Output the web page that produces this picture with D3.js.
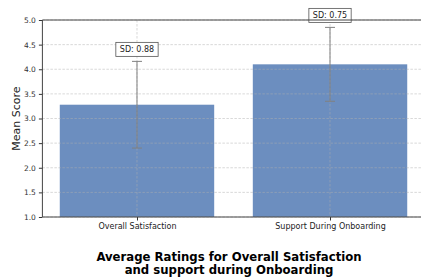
<!DOCTYPE html>
<html><head><meta charset="utf-8">
<script src="https://cdn.jsdelivr.net/npm/d3@7"></script>
<style>body{margin:0;background:#fff}svg{display:block}text{font-family:"DejaVu Sans",sans-serif}</style>
</head><body>
<svg id="c" width="421" height="279"></svg>
<script>
const categories = ["Overall Satisfaction", "Support During Onboarding"];
const means = [3.28, 4.1];
const sds = [0.88, 0.75];
const yTicks = [1.0, 1.5, 2.0, 2.5, 3.0, 3.5, 4.0, 4.5, 5.0];
const titleLines = ["Average Ratings for Overall Satisfaction", "and support during Onboarding"];
const yLabel = "Mean Score";

const svg = d3.select("#c");
const L = 42.4, R = 424.6, T = 20, B = 217;
const x = d3.scaleLinear().domain([-0.49, 1.49]).range([L, R]);
const y = d3.scaleLinear().domain([1, 5]).range([B, T]);
const bw = 0.8;

// bars
svg.selectAll("rect.bar").data(means).join("rect")
  .attr("x", (d,i) => x(i - bw/2)).attr("width", (d,i) => x(i + bw/2) - x(i - bw/2))
  .attr("y", d => y(d)).attr("height", d => y(1) - y(d))
  .attr("fill", "#6c8ebf");

// grid
const g = svg.append("g").attr("stroke", "#b0b0b0").attr("stroke-dasharray", "2.5,1.5").attr("stroke-width", 0.8).attr("opacity", 0.6);
yTicks.forEach(t => g.append("line").attr("x1", L).attr("x2", R).attr("y1", y(t)).attr("y2", y(t)));
categories.forEach((c,i) => g.append("line").attr("x1", x(i)).attr("x2", x(i)).attr("y1", T).attr("y2", B));

// error bars
means.forEach((m,i) => {
  const eg = svg.append("g").attr("stroke", "#808080").attr("stroke-width", 1);
  const cx = x(i);
  eg.append("line").attr("x1", cx).attr("x2", cx).attr("y1", y(m - sds[i])).attr("y2", y(m + sds[i]));
  [m - sds[i], m + sds[i]].forEach(v => eg.append("line").attr("x1", cx - 5).attr("x2", cx + 5).attr("y1", y(v)).attr("y2", y(v)));
  const ty = y(m + sds[i]) - 12;
  const lab = svg.append("g");
  const txt = lab.append("text").attr("x", cx).attr("y", ty).attr("text-anchor", "middle").attr("dominant-baseline", "central")
    .attr("font-size", 8).attr("fill", "#222").text("SD: " + sds[i].toFixed(2));
  const bb = txt.node().getBBox();
  lab.insert("rect", "text").attr("x", bb.x - 4).attr("y", ty - 7).attr("width", bb.width + 8).attr("height", 14)
    .attr("fill", "#fff").attr("stroke", "#555").attr("stroke-width", 0.8);
});

// axes
const ya = svg.append("g").attr("transform", `translate(${L},0)`)
  .call(d3.axisLeft(y).tickValues(yTicks).tickFormat(d3.format(".1f")).tickSize(3.5).tickPadding(3));
ya.select(".domain").remove();
ya.selectAll("text").attr("font-size", 7.5).attr("fill", "#333").attr("font-family", "DejaVu Sans");
ya.selectAll("line").attr("stroke", "#333");
const xa = svg.append("g").attr("transform", `translate(0,${B})`)
  .call(d3.axisBottom(x).tickValues([0,1]).tickFormat(i => categories[i]).tickSize(3.5).tickPadding(3));
xa.select(".domain").remove();
xa.selectAll("text").attr("font-size", 8).attr("fill", "#222").attr("font-family", "DejaVu Sans");
xa.selectAll("line").attr("stroke", "#333");

// spines
svg.append("line").attr("x1", L).attr("x2", L).attr("y1", T).attr("y2", B).attr("stroke", "#444").attr("stroke-width", 1);
svg.append("line").attr("x1", L).attr("x2", R).attr("y1", B).attr("y2", B).attr("stroke", "#444").attr("stroke-width", 1);
svg.append("line").attr("x1", L).attr("x2", R).attr("y1", T).attr("y2", T).attr("stroke", "#444").attr("stroke-width", 1);

// labels
svg.append("text").attr("transform", `translate(20,${(T+B)/2}) rotate(-90)`).attr("text-anchor", "middle")
  .attr("font-size", 11).attr("fill", "#222").text(yLabel);
titleLines.forEach((t,i) => svg.append("text").attr("x", 229).attr("y", 261 + i*13).attr("text-anchor", "middle")
  .attr("font-size", 11.7).attr("font-weight", "bold").attr("fill", "#000").text(t));
</script>
</body></html>
